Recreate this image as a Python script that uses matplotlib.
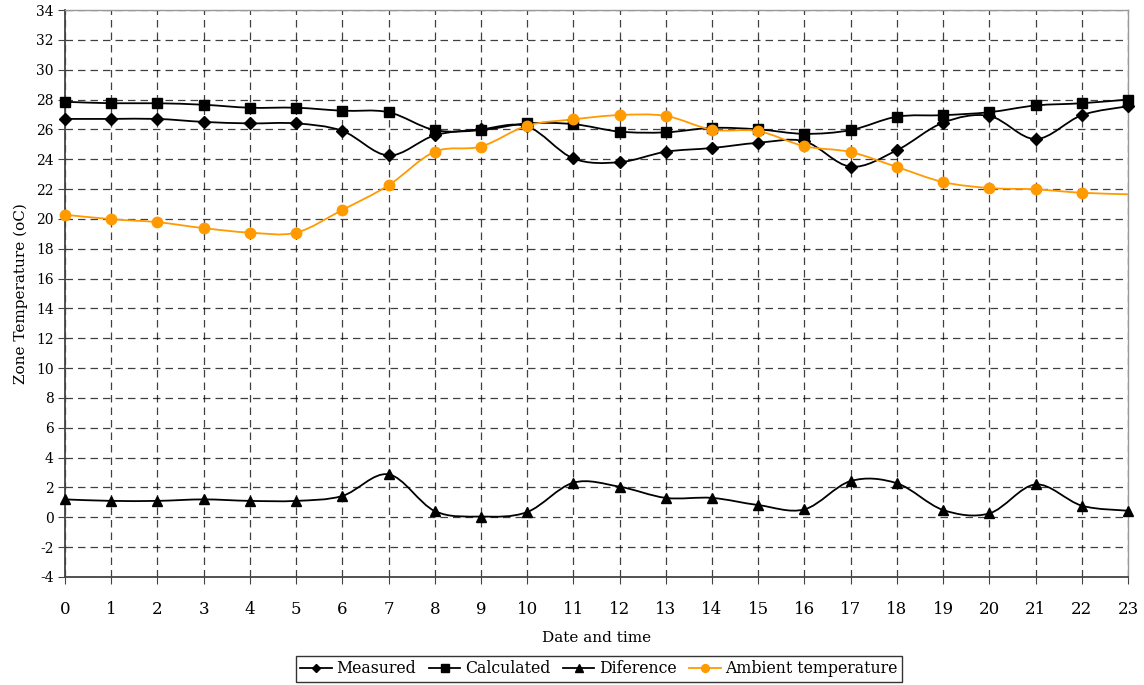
import numpy as np
import matplotlib
matplotlib.use("Agg")
import matplotlib.pyplot as plt
from matplotlib.path import Path
from matplotlib.patches import PathPatch
from matplotlib.lines import Line2D

plt.rcParams['font.family'] = ['DejaVu Serif']
plt.rcParams['font.size'] = 10
plt.rcParams['axes.unicode_minus'] = False

# data
hours = list(range(24))
measured = [26.7, 26.7, 26.7, 26.5, 26.4, 26.4, 25.9, 24.25, 25.6, 26.0, 26.2, 24.05,
            23.8, 24.5, 24.75, 25.1, 25.2, 23.5, 24.6, 26.45, 26.9, 25.35, 26.95, 27.55]
calculated = [27.85, 27.75, 27.75, 27.65, 27.45, 27.45, 27.25, 27.15, 25.95, 25.95, 26.4, 26.35,
              25.85, 25.8, 26.1, 26.0, 25.7, 25.95, 26.85, 26.95, 27.15, 27.6, 27.75, 28.0]
difference = [1.2, 1.1, 1.1, 1.2, 1.1, 1.1, 1.43, 2.88, 0.42, 0.05, 0.35, 2.32,
              2.05, 1.3, 1.3, 0.82, 0.53, 2.43, 2.28, 0.49, 0.26, 2.2, 0.78, 0.44]
ambient = [20.28, 19.98, 19.78, 19.38, 19.08, 19.08, 20.6, 22.25, 24.5, 24.85, 26.25, 26.67,
           26.96, 26.9, 25.98, 25.88, 24.87, 24.48, 23.48, 22.47, 22.07, 21.98, 21.75, 21.65]

ORANGE = '#FF9A00'


def smooth_path(x, y):
    # Excel-style smoothed line: cubic Bezier through every point
    x = np.asarray(x, float)
    y = np.asarray(y, float)
    n = len(x)
    verts = [(x[0], y[0])]
    codes = [Path.MOVETO]
    for i in range(n - 1):
        p0 = np.array([x[max(i - 1, 0)], y[max(i - 1, 0)]])
        p1 = np.array([x[i], y[i]])
        p2 = np.array([x[i + 1], y[i + 1]])
        p3 = np.array([x[min(i + 2, n - 1)], y[min(i + 2, n - 1)]])
        c1 = p1 + (p2 - p0) / 6.0
        c2 = p2 - (p3 - p1) / 6.0
        verts += [tuple(c1), tuple(c2), tuple(p2)]
        codes += [Path.CURVE4] * 3
    return Path(verts, codes)


fig = plt.figure(figsize=(11.44, 6.85), dpi=100)
ax = fig.add_axes([0.0568, 0.1577, 0.9292, 0.8277])

series = [
    (measured, 'black', 'D', 6, 'Measured', None),
    (calculated, 'black', 's', 7, 'Calculated', None),
    (difference, 'black', '^', 7.5, 'Diference', None),
    (ambient, ORANGE, 'o', 7.5, 'Ambient temperature', list(range(23))),
]

handles = []
for vals, col, mk, ms, lab, mev in series:
    ax.add_patch(PathPatch(smooth_path(hours, vals), facecolor='none',
                           edgecolor=col, lw=1.3, zorder=3, clip_on=False))
    ax.plot(hours, vals, ls='none', marker=mk, ms=ms, color=col,
            markevery=mev, zorder=4, clip_on=False)
    handles.append(Line2D([], [], color=col, lw=1.3, marker=mk, ms=ms * 0.75, label=lab))

ax.set_xlim(0, 23)
ax.set_ylim(-4, 34)
ax.set_xticks(hours)
ax.set_yticks(np.arange(-4, 35, 2))
ax.grid(True, color='black', ls=(0, (6, 4)), lw=0.9, alpha=0.75)
ax.set_axisbelow(True)

for side in ['left', 'bottom']:
    ax.spines[side].set_color('#444444')
    ax.spines[side].set_linewidth(1.3)
for side in ['right', 'top']:
    ax.spines[side].set_color('#999999')
    ax.spines[side].set_linewidth(1.0)
ax.tick_params(axis='both', direction='out', length=5, color='#444444')
ax.tick_params(axis='y', labelsize=10, pad=3)
ax.tick_params(axis='x', labelsize=12, pad=12)

ax.set_xlabel('Date and time', fontsize=11, labelpad=10)
ax.set_ylabel('Zone Temperature (oC)', fontsize=11, labelpad=6)

leg = fig.legend(handles=handles, loc='center', bbox_to_anchor=(0.5236, 0.0234), ncol=4,
                 frameon=True, fancybox=False, edgecolor='black', fontsize=11.3,
                 handlelength=2.0, handletextpad=0.3, columnspacing=0.8,
                 borderpad=0.3)
leg.get_frame().set_linewidth(1.0)

fig.savefig('out.png', dpi=100)
